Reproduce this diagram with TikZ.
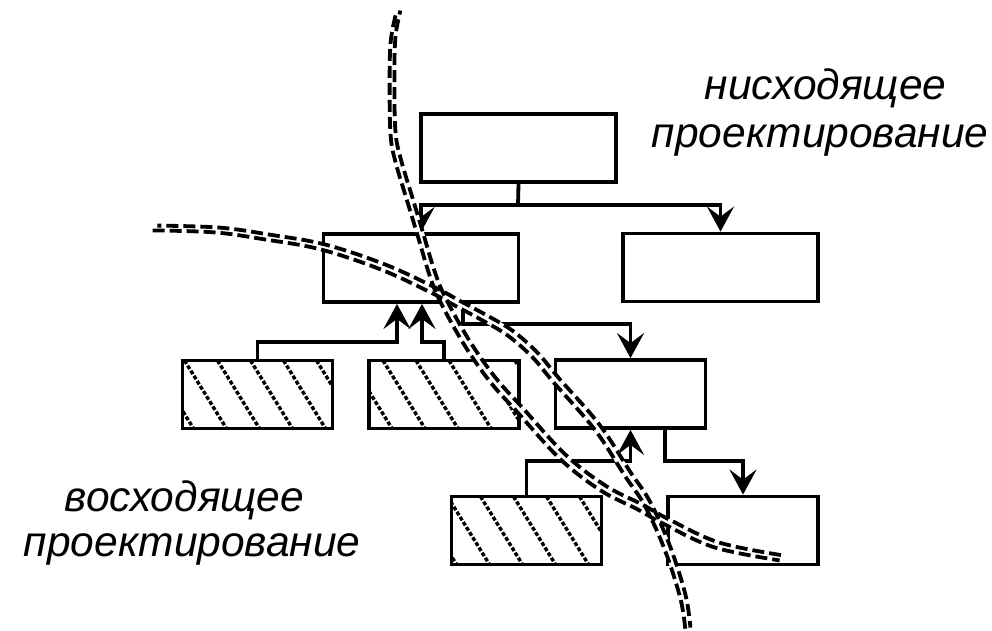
\documentclass[tikz,border=0pt]{standalone}
\usepackage{fontspec}
\setmainfont{Liberation Sans}
\usetikzlibrary{arrows.meta}
\begin{document}
\begin{tikzpicture}[x=1pt,y=-1pt,line width=3.8pt,line join=miter,
  boxbase/.style={draw,line width=3.8pt,inner sep=0pt,minimum height=68pt},
  widebox/.style={boxbase,minimum width=195pt},
  narrowbox/.style={boxbase,minimum width=150pt},
  hatchline/.style={line width=3.4pt,dash pattern=on 4pt off 2pt},
  hatchbox/.style={narrowbox,path picture={
      \foreach \k in {-3,...,5}{
        \draw[hatchline] (path picture bounding box.north west) ++(\k*33+#1,0) -- ++(42,68);
      }}},
  arr/.style={-{Stealth[length=25pt,width=27pt,inset=10pt]}},
  curveunder/.style={white,line width=8pt},
  curveline/.style={line width=3.8pt,dash pattern=on 12pt off 5pt},
  lbl/.style={font=\fontsize{42.5}{48}\selectfont\itshape,inner sep=0pt,anchor=base west}
]
\useasboundingbox (0,0) rectangle (992,631);

% boxes
\node[widebox] (T) at (518.5,148) {};
\node[widebox] (L2a) at (421,268) {};
\node[widebox] (L2b) at (720.5,267.5) {};
\node[hatchbox=2] (H1) at (257.5,394.5) {};
\node[hatchbox=14] (H2) at (444,394.5) {};
\node[narrowbox] (B3) at (630.5,394) {};
\node[hatchbox=29] (H4) at (526.5,530.5) {};
\node[narrowbox] (B5) at (743,530.5) {};

% connectors
\coordinate (j1) at (518,205);
\draw (T.south) -- (j1);
\draw[arr] (j1) -| (L2a.north);
\draw[arr] (j1) -| (L2b.north);

\coordinate (a1) at (397,342);
\coordinate (a2) at (422,342);
\draw[arr] (H1.north) |- (a1) -- (a1 |- L2a.south);
\draw[arr] (H2.north) |- (a2) -- (a2 |- L2a.south);

\coordinate (d1) at (463,324);
\draw[arr] (d1 |- L2a.south) -- (d1) -| (B3.north);

\coordinate (a3) at (630.5,461);
\draw[arr] (H4.north) |- (a3) -- (a3 |- B3.south);

\coordinate (d2) at (665,461);
\draw[arr] (d2 |- B3.south) -- (d2) -| (B5.north);

% boundary curves
\def\curveone{(398,13) (393,40) (392,83) (393,133) (398,160) (410,200) (420,233) (432,273) (443,300) (467,343) (493,380) (520,410) (563,457) (603,488) (640,507) (667,522) (717,545) (782,558)}
\def\curvetwo{(155,228) (217,230) (267,237) (323,247) (383,267) (433,290) (457,303) (483,317) (510,333) (535,355) (556,380) (597,427) (627,473) (647,503) (667,547) (683,597) (688,630)}
\draw[curveunder] plot[smooth,tension=0.6] coordinates {\curveone};
\draw[curveunder] plot[smooth,tension=0.6] coordinates {\curvetwo};
\begin{scope}[shift={(-2.4,2.4)}]
\draw[curveline] plot[smooth,tension=0.6] coordinates {\curveone};
\draw[curveline] plot[smooth,tension=0.6] coordinates {\curvetwo};
\end{scope}
\begin{scope}[shift={(2.4,-2.4)}]
\draw[curveline,dash phase=8pt] plot[smooth,tension=0.6] coordinates {\curveone};
\draw[curveline,dash phase=8pt] plot[smooth,tension=0.6] coordinates {\curvetwo};
\end{scope}

% labels
\node[lbl] (t1) at (703,100) {нисходящее};
\node[lbl] (t2) at (650,148) {проектирование};
\node[lbl] (t3) at (63,511) {восходящее};
\node[lbl] (t4) at (22,556) {проектирование};
\end{tikzpicture}
\end{document}
